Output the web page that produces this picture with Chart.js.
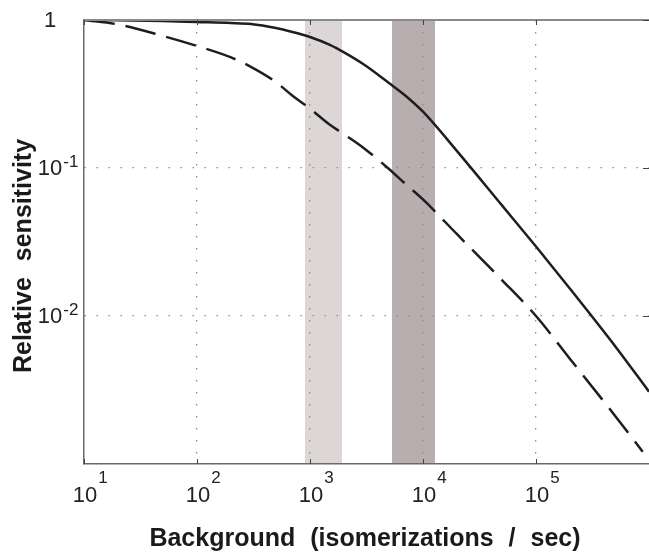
<!DOCTYPE html>
<html>
<head>
<meta charset="utf-8">
<script src="https://cdn.jsdelivr.net/npm/chart.js@4.4.1/dist/chart.umd.min.js"></script>
<style>
  html, body { margin: 0; padding: 0; background: #fff; }
  canvas { display: block; }
</style>
</head>
<body>
<canvas id="myChart" width="649" height="553"></canvas>
<script>
// background intensities (isomerizations / sec)
const background = [10, 20, 50, 100, 200, 300, 500, 700, 1000, 1500, 2000, 3000, 5000, 7000, 1e4, 2e4, 5e4, 1e5, 2e5, 5e5, 1e6];
const solidSens = [1.0, 0.998, 0.985, 0.97, 0.955, 0.94, 0.883, 0.83, 0.768, 0.679, 0.604, 0.5, 0.375, 0.308, 0.24, 0.13, 0.0559, 0.0295, 0.0153, 0.00628, 0.00308];
const dashedBackground = [10, 20, 50, 100, 200, 300, 500, 700, 1000, 1500, 2000, 3000, 5000, 7000, 1e4, 2e4, 5e4, 1e5, 2e5, 5e5, 8.8e5];
const dashedSens = [1.0, 0.933, 0.78, 0.668, 0.559, 0.482, 0.38, 0.308, 0.252, 0.196, 0.169, 0.136, 0.0985, 0.078, 0.0613, 0.0357, 0.0175, 0.01, 0.00513, 0.00212, 0.00121];

// shaded ranges
const bands = [[903, 1920], [5320, 12760]];
const bandColors = ["#dcd6d7", "#b8aeaf"];

// tick labels
const xTicks = [10, 100, 1000, 1e4, 1e5];
const xTickExp = ["1", "2", "3", "4", "5"];
const yTicks = [1, 0.1, 0.01];
const yTickBase = ["1", "10", "10"];
const yTickExp = ["", "-1", "-2"];

const xTitle = "Background (isomerizations / sec)";
const yTitle = "Relative sensitivity";

const FONT = "'Liberation Sans', Arial, sans-serif";

function drawSpaced(ctx, text, cx, y, gap) {
  var words = text.split(" ");
  var widths = words.map(function (w) { return ctx.measureText(w).width; });
  var total = widths.reduce(function (s, w) { return s + w; }, 0) + gap * (words.length - 1);
  var pos = cx - total / 2;
  ctx.textAlign = "left";
  words.forEach(function (w, i) {
    ctx.fillText(w, pos, y);
    pos += widths[i] + gap;
  });
}

function drawPower(ctx, base, exp, cx, baseY, supY) {
  ctx.textAlign = "left";
  ctx.textBaseline = "alphabetic";
  ctx.font = "22px " + FONT;
  var w = ctx.measureText(base).width;
  ctx.fillText(base, cx - w / 2, baseY);
  if (exp) {
    ctx.font = "17px " + FONT;
    ctx.fillText(exp, cx + w / 2 + 1, supY);
  }
}

const decor = {
  id: "decor",
  beforeDraw(chart) {
    const ctx = chart.ctx, a = chart.chartArea, x = chart.scales.x;
    ctx.save();
    bands.forEach(function (b, i) {
      var x0 = x.getPixelForValue(b[0]);
      var x1 = x.getPixelForValue(b[1]);
      ctx.fillStyle = bandColors[i];
      ctx.fillRect(x0, a.top, x1 - x0, a.bottom - a.top);
    });
    ctx.restore();
  },
  afterDraw(chart) {
    const ctx = chart.ctx, a = chart.chartArea, x = chart.scales.x, y = chart.scales.y;
    ctx.save();
    // top frame line
    ctx.strokeStyle = "#8a8a8a";
    ctx.lineWidth = 2;
    ctx.beginPath();
    ctx.moveTo(a.left, a.top);
    ctx.lineTo(a.right, a.top);
    ctx.stroke();
    // inner tick marks
    ctx.strokeStyle = "#444";
    ctx.lineWidth = 1;
    xTicks.forEach(function (v) {
      var px = Math.round(x.getPixelForValue(v)) + 0.5;
      ctx.beginPath();
      ctx.moveTo(px, a.top);
      ctx.lineTo(px, a.top + 5);
      ctx.moveTo(px, a.bottom);
      ctx.lineTo(px, a.bottom - 5);
      ctx.stroke();
    });
    yTicks.forEach(function (v) {
      var py = Math.round(y.getPixelForValue(v)) + 0.5;
      ctx.beginPath();
      ctx.moveTo(a.right, py);
      ctx.lineTo(a.right - 6, py);
      ctx.stroke();
    });
    // tick labels
    ctx.fillStyle = "#222";
    xTicks.forEach(function (v, i) {
      var px = x.getPixelForValue(v) + 1;
      drawPower(ctx, "10", xTickExp[i], px, a.bottom + 38, a.bottom + 19);
    });
    yTicks.forEach(function (v, i) {
      var py = y.getPixelForValue(v);
      drawPower(ctx, yTickBase[i], yTickExp[i], 50, py + 7, py - 1);
    });
    // axis titles
    ctx.fillStyle = "#1a1a1a";
    ctx.textBaseline = "alphabetic";
    ctx.font = "bold 25px " + FONT;
    drawSpaced(ctx, xTitle, 365, 546, 15);
    ctx.translate(31, 256);
    ctx.rotate(-Math.PI / 2);
    drawSpaced(ctx, yTitle, 0, 0, 16);
    ctx.restore();
  }
};

const ctx = document.getElementById("myChart");
new Chart(ctx, {
  type: "line",
  data: {
    datasets: [
      {
        label: "solid",
        data: background.map(function (b, i) { return { x: b, y: solidSens[i] }; }),
        borderColor: "#1e1e1e",
        borderWidth: 2.5,
        pointRadius: 0,
        cubicInterpolationMode: "monotone",
      },
      {
        label: "dashed",
        data: dashedBackground.map(function (b, i) { return { x: b, y: dashedSens[i] }; }),
        borderColor: "#1e1e1e",
        borderWidth: 2.5,
        borderDash: [31, 11],
        pointRadius: 0,
        cubicInterpolationMode: "monotone",
      },
    ],
  },
  options: {
    responsive: false,
    animation: false,
    devicePixelRatio: 1,
    layout: { padding: { left: 84, top: 20, right: 0, bottom: 89 }, autoPadding: false },
    plugins: { legend: { display: false }, tooltip: { enabled: false } },
    scales: {
      x: {
        type: "logarithmic",
        min: 10,
        max: 1e6,
        afterBuildTicks: function (scale) {
          scale.ticks = xTicks.filter(function (v) { return v > 10; }).map(function (v) { return { value: v }; });
        },
        ticks: { display: false },
        grid: { color: "#8c8c8c", lineWidth: 1.3, drawTicks: false },
        border: { display: true, color: "#6a6a6a", width: 1.5, dash: [1.5, 10.5] },
      },
      y: {
        type: "logarithmic",
        min: 0.001,
        max: 1,
        afterBuildTicks: function (scale) {
          scale.ticks = yTicks.filter(function (v) { return v < 1; }).map(function (v) { return { value: v }; });
        },
        ticks: { display: false },
        grid: { color: "#8c8c8c", lineWidth: 1.3, drawTicks: false },
        border: { display: true, color: "#6a6a6a", width: 1.5, dash: [1.5, 10.5] },
      },
    },
  },
  plugins: [decor],
});
</script>
</body>
</html>
